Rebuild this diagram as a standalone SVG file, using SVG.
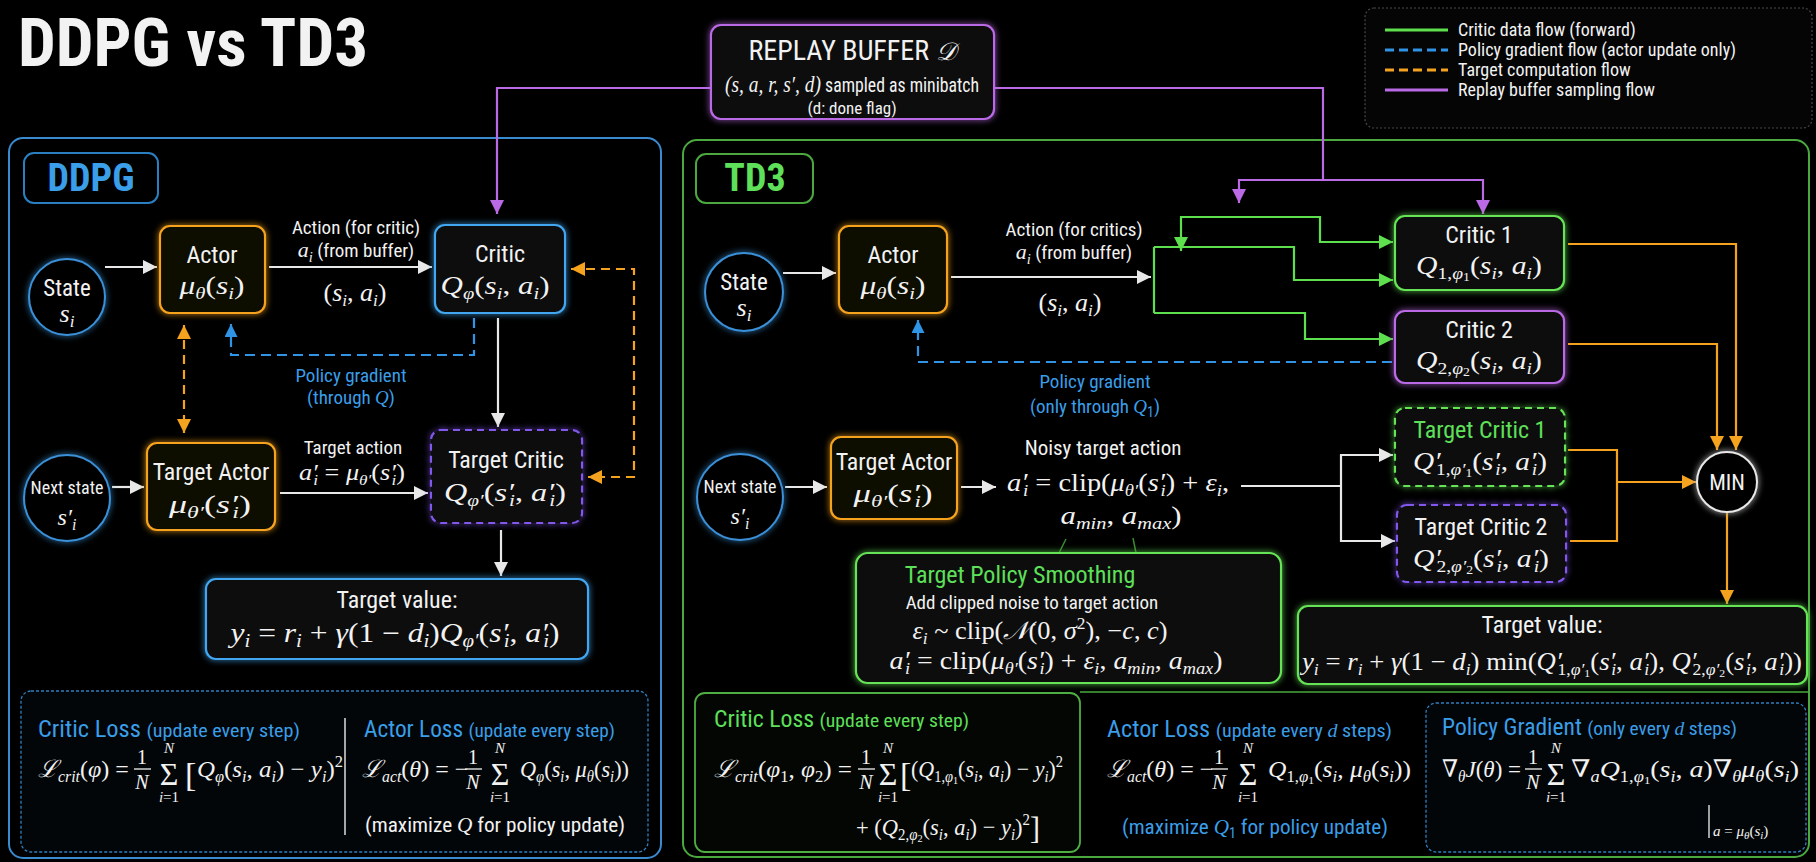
<svg xmlns="http://www.w3.org/2000/svg" width="1816" height="862" viewBox="0 0 1816 862">
<defs>
<style>
text{font-family:"Liberation Sans Narrow","Roboto Condensed",Roboto,"Liberation Sans",sans-serif;fill:#f2f2f2;}
.m{font-family:"Liberation Serif","DejaVu Serif",serif;font-style:italic;}
.r{font-style:normal;}
.sb{font-size:0.66em;}
.tb{fill:#3a9ee8;}
.tg{fill:#5ee05a;}
.box{fill:#070707;stroke-width:2.2;filter:url(#glow);}
.or{stroke:#f5a21e;fill:#0d0803;}
.bl{stroke:#43a6f0;}
.gr{stroke:#66e356;}
.pu{stroke:#bb6ae6;}
.vi{stroke:#8258ec;}
.dash{stroke-dasharray:7 5;}
.frame{fill:none;stroke-width:2;}
.c{fill:none;stroke-width:2.2;}
.cw{stroke:#e8e8e8;}
.co{stroke:#f5a21e;}
.cg{stroke:#5ee04e;}
.cp{stroke:#bb6ae6;}
.cb{stroke:#2f93e6;stroke-dasharray:10 6;}
.cod{stroke-dasharray:9 6;}
</style>
<filter id="glow" x="-20%" y="-20%" width="140%" height="140%">
<feGaussianBlur in="SourceGraphic" stdDeviation="3" result="b"/>
<feMerge><feMergeNode in="b"/><feMergeNode in="SourceGraphic"/></feMerge>
</filter>
<marker id="mw" viewBox="0 0 10 10" refX="10" refY="5" markerWidth="14" markerHeight="14" markerUnits="userSpaceOnUse" orient="auto-start-reverse"><path d="M0,0 L10,5 L0,10 z" fill="#e8e8e8"/></marker>
<marker id="mo" viewBox="0 0 10 10" refX="10" refY="5" markerWidth="14" markerHeight="14" markerUnits="userSpaceOnUse" orient="auto-start-reverse"><path d="M0,0 L10,5 L0,10 z" fill="#f5a21e"/></marker>
<marker id="mg" viewBox="0 0 10 10" refX="10" refY="5" markerWidth="14" markerHeight="14" markerUnits="userSpaceOnUse" orient="auto-start-reverse"><path d="M0,0 L10,5 L0,10 z" fill="#5ee04e"/></marker>
<marker id="mp" viewBox="0 0 10 10" refX="10" refY="5" markerWidth="14" markerHeight="14" markerUnits="userSpaceOnUse" orient="auto-start-reverse"><path d="M0,0 L10,5 L0,10 z" fill="#bb6ae6"/></marker>
<marker id="mb" viewBox="0 0 10 10" refX="10" refY="5" markerWidth="13" markerHeight="13" markerUnits="userSpaceOnUse" orient="auto-start-reverse"><path d="M0,0 L10,5 L0,10 z" fill="#2f93e6"/></marker>
</defs>

<rect width="1816" height="862" fill="#000"/>

<!-- title -->
<text x="18" y="66" font-size="66" font-weight="bold" textLength="350" lengthAdjust="spacingAndGlyphs">DDPG vs TD3</text>

<!-- legend -->
<g id="legend">
<rect x="1365" y="8" width="447" height="120" rx="9" fill="#050505" stroke="#4a4a4a" stroke-width="1.2" stroke-dasharray="2 2"/>
<line x1="1385" y1="30" x2="1448" y2="30" stroke="#5ee04e" stroke-width="3"/>
<line x1="1385" y1="50" x2="1448" y2="50" stroke="#2f93e6" stroke-width="3" stroke-dasharray="9 5"/>
<line x1="1385" y1="70" x2="1448" y2="70" stroke="#f5a21e" stroke-width="3" stroke-dasharray="9 5"/>
<line x1="1385" y1="90" x2="1448" y2="90" stroke="#bb6ae6" stroke-width="3"/>
<text x="1458" y="36" font-size="18">Critic data flow (forward)</text>
<text x="1458" y="56" font-size="18">Policy gradient flow (actor update only)</text>
<text x="1458" y="76" font-size="18">Target computation flow</text>
<text x="1458" y="96" font-size="18">Replay buffer sampling flow</text>
</g>

<!-- replay buffer -->
<g id="replay">
<rect class="box pu" x="711" y="25" width="283" height="94" rx="10"/>
<text x="852" y="60" font-size="28" text-anchor="middle">REPLAY BUFFER <tspan class="m" font-size="25">𝒟</tspan></text>
<text x="852" y="92" font-size="21" text-anchor="middle" textLength="254" lengthAdjust="spacingAndGlyphs"><tspan class="m" font-size="23">(s, a, r, s′, d)</tspan> sampled as minibatch</text>
<text x="852" y="114" font-size="17" text-anchor="middle">(d: done flag)</text>
</g>

<!-- section frames -->
<g id="ddpg-frame">
<rect class="frame" x="9" y="138" width="652" height="720" rx="14" stroke="#3a8ad0"/>
<rect x="24" y="153" width="134" height="50" rx="10" fill="none" stroke="#2b7fc0" stroke-width="2"/>
<text x="91" y="191" font-size="38" font-weight="bold" text-anchor="middle" class="tb">DDPG</text>
</g>
<g id="td3-frame">
<rect class="frame" x="683" y="140" width="1126" height="717" rx="14" stroke="#4aa83f"/>
<rect x="696" y="154" width="117" height="49" rx="10" fill="none" stroke="#4aa83f" stroke-width="2"/>
<text x="755" y="191" font-size="38" font-weight="bold" text-anchor="middle" class="tg">TD3</text>
</g>

<!-- connectors -->
<g id="connectors">
<!-- replay sampling -->
<path class="c cp" d="M711,88 H497 V214" marker-end="url(#mp)"/>
<path class="c cp" d="M994,88 H1323 V180"/>
<path class="c cp" d="M1239,203 V180 H1483 V214" marker-start="url(#mp)" marker-end="url(#mp)"/>
<!-- DDPG forward -->
<path class="c cw" d="M105,267 H157" marker-end="url(#mw)"/>
<path class="c cw" d="M269,267 H432" marker-end="url(#mw)"/>
<path class="c cw" d="M498,318 V427" marker-end="url(#mw)"/>
<path class="c cw" d="M112,487 H144" marker-end="url(#mw)"/>
<path class="c cw" d="M280,493 H428" marker-end="url(#mw)"/>
<path class="c cw" d="M501,530 V576" marker-end="url(#mw)"/>
<!-- DDPG gradient / target sync -->
<path class="c cb" d="M474,318 V355 H231 V324" marker-end="url(#mb)"/>
<path class="c co cod" d="M184,325 V433" marker-start="url(#mo)" marker-end="url(#mo)"/>
<path class="c co cod" d="M571,269 H634 V477 H588" marker-start="url(#mo)" marker-end="url(#mo)"/>
<!-- TD3 forward -->
<path class="c cw" d="M783,273 H836" marker-end="url(#mw)"/>
<path class="c cw" d="M951,277 H1151" marker-end="url(#mw)"/>
<path class="c cg" d="M1154,247 V313"/>
<path class="c cg" d="M1154,247 H1294 V280 H1393" marker-end="url(#mg)"/>
<path class="c cg" d="M1154,313 H1305 V339 H1393" marker-end="url(#mg)"/>
<path class="c cg" d="M1181,251 V217 H1320 V242 H1393" marker-start="url(#mg)" marker-end="url(#mg)"/>
<path class="c cb" d="M1392,362 H918 V320" marker-end="url(#mb)"/>
<path class="c cw" d="M785,487 H827" marker-end="url(#mw)"/>
<path class="c cw" d="M961,487 H996" marker-end="url(#mw)"/>
<path class="c cw" d="M1241,486 H1341"/>
<path class="c cw" d="M1393,455 H1341 V541 H1395" marker-start="url(#mw)" marker-end="url(#mw)"/>
<path d="M1059,553 L1066,539 M1136,553 L1133,538" fill="none" stroke="#3a8a30" stroke-width="1.5"/>
<!-- TD3 target min -->
<path class="c co" d="M1568,244 H1736 V450" marker-end="url(#mo)"/>
<path class="c co" d="M1568,344 H1717 V450" marker-end="url(#mo)"/>
<path class="c co" d="M1568,450 H1617 V541 H1570"/>
<path class="c co" d="M1617,482 H1696" marker-end="url(#mo)"/>
<path class="c co" d="M1727,512 V604" marker-end="url(#mo)"/>
</g>

<!-- DDPG nodes -->
<g id="ddpg-state">
<circle cx="67" cy="297" r="38" fill="#040404" stroke="#3a90d8" stroke-width="2" filter="url(#glow)"/>
<text x="67" y="296" font-size="23" text-anchor="middle">State</text>
<text class="m" x="67" y="322" font-size="26" text-anchor="middle">s<tspan class="sb" dy="5">i</tspan></text>
</g>
<g id="ddpg-actor">
<rect class="box or" x="160" y="226" width="105" height="87" rx="10"/>
<text x="212" y="263" font-size="24" text-anchor="middle">Actor</text>
<text class="m" x="212" y="294" font-size="26" text-anchor="middle" textLength="65" lengthAdjust="spacingAndGlyphs">μ<tspan class="sb" dy="5">θ</tspan><tspan class="r" dy="-5">(</tspan>s<tspan class="sb" dy="5">i</tspan><tspan class="r" dy="-5">)</tspan></text>
</g>
<g id="ddpg-critic">
<rect class="box bl" x="435" y="225" width="130" height="88" rx="10"/>
<text x="500" y="262" font-size="24" text-anchor="middle">Critic</text>
<text class="m" x="495" y="294" font-size="26" text-anchor="middle" textLength="109" lengthAdjust="spacingAndGlyphs">Q<tspan class="sb" dy="5">φ</tspan><tspan class="r" dy="-5">(</tspan>s<tspan class="sb" dy="5">i</tspan><tspan class="r" dy="-5">, </tspan>a<tspan class="sb" dy="5">i</tspan><tspan class="r" dy="-5">)</tspan></text>
</g>
<g id="ddpg-next-state">
<circle cx="67" cy="498" r="43" fill="#040404" stroke="#3a90d8" stroke-width="2" filter="url(#glow)"/>
<text x="67" y="494" font-size="18" text-anchor="middle">Next state</text>
<text class="m" x="67" y="525" font-size="24" text-anchor="middle">s′<tspan class="sb" dy="5">i</tspan></text>
</g>
<g id="ddpg-target-actor">
<rect class="box or" x="147" y="443" width="128" height="87" rx="10"/>
<text x="211" y="480" font-size="24" text-anchor="middle">Target Actor</text>
<text class="m" x="210" y="513" font-size="26" text-anchor="middle" textLength="82" lengthAdjust="spacingAndGlyphs">μ<tspan class="sb" dy="5">θ′</tspan><tspan class="r" dy="-5">(</tspan>s′<tspan class="sb" dx="-4" dy="5">i</tspan><tspan class="r" dy="-5">)</tspan></text>
</g>
<g id="ddpg-target-critic">
<rect class="box vi dash" x="431" y="430" width="151" height="93" rx="10"/>
<text x="506" y="468" font-size="24" text-anchor="middle">Target Critic</text>
<text class="m" x="505" y="501" font-size="26" text-anchor="middle" textLength="122" lengthAdjust="spacingAndGlyphs">Q<tspan class="sb" dy="5">φ′</tspan><tspan class="r" dy="-5">(</tspan>s′<tspan class="sb" dx="-4" dy="5">i</tspan><tspan class="r" dy="-5">, </tspan>a′<tspan class="sb" dx="-4" dy="5">i</tspan><tspan class="r" dy="-5">)</tspan></text>
</g>
<g id="ddpg-target-value">
<rect class="box bl" x="206" y="579" width="382" height="80" rx="10" stroke="#3a8ad0"/>
<text x="397" y="608" font-size="24" text-anchor="middle">Target value:</text>
<text class="m" x="395" y="642" font-size="27" text-anchor="middle" textLength="329" lengthAdjust="spacingAndGlyphs">y<tspan class="sb" dy="5">i</tspan><tspan class="r" dy="-5"> = </tspan>r<tspan class="sb" dy="5">i</tspan><tspan class="r" dy="-5"> + </tspan>γ<tspan class="r">(1 − </tspan>d<tspan class="sb" dy="5">i</tspan><tspan class="r" dy="-5">)</tspan>Q<tspan class="sb" dy="5">φ′</tspan><tspan class="r" dy="-5">(</tspan>s′<tspan class="sb" dx="-4" dy="5">i</tspan><tspan class="r" dy="-5">, </tspan>a′<tspan class="sb" dx="-4" dy="5">i</tspan><tspan class="r" dy="-5">)</tspan></text>
</g>
<g id="ddpg-edge-labels">
<text x="356" y="234" font-size="19" text-anchor="middle">Action (for critic)</text>
<text x="356" y="257" font-size="19" text-anchor="middle"><tspan class="m" font-size="22">a<tspan class="sb" dy="5">i</tspan></tspan><tspan dy="-5"> (from buffer)</tspan></text>
<text class="m" x="355" y="301" font-size="25" text-anchor="middle" textLength="63" lengthAdjust="spacingAndGlyphs"><tspan class="r">(</tspan>s<tspan class="sb" dy="5">i</tspan><tspan class="r" dy="-5">, </tspan>a<tspan class="sb" dy="5">i</tspan><tspan class="r" dy="-5">)</tspan></text>
<text x="351" y="382" font-size="19" text-anchor="middle" class="tb">Policy gradient</text>
<text x="351" y="404" font-size="19" text-anchor="middle" class="tb">(through <tspan class="m">Q</tspan>)</text>
<text x="353" y="454" font-size="19" text-anchor="middle">Target action</text>
<text class="m" x="352" y="480" font-size="23" text-anchor="middle" textLength="106" lengthAdjust="spacingAndGlyphs">a′<tspan class="sb" dx="-4" dy="5">i</tspan><tspan class="r" dy="-5"> = </tspan>μ<tspan class="sb" dy="5">θ′</tspan><tspan class="r" dy="-5">(</tspan>s′<tspan class="sb" dx="-4" dy="5">i</tspan><tspan class="r" dy="-5">)</tspan></text>
</g>
<g id="ddpg-losses">
<rect x="21" y="691" width="627" height="161" rx="10" fill="#030608" stroke="#2f7fbf" stroke-width="1.3" stroke-dasharray="3 2"/>
<text x="38" y="737" font-size="23" class="tb" textLength="262" lengthAdjust="spacingAndGlyphs">Critic Loss <tspan font-size="19">(update every step)</tspan></text>
<text class="m" x="38" y="777" font-size="24">ℒ<tspan class="sb" dy="5">crit</tspan><tspan class="r" dy="-5">(</tspan>φ<tspan class="r">) =</tspan></text>
<text class="m r" x="142" y="764" font-size="20" text-anchor="middle">1</text>
<line x1="134" y1="769" x2="151" y2="769" stroke="#f2f2f2" stroke-width="1.3"/>
<text class="m" x="142" y="789" font-size="20" text-anchor="middle">N</text>
<text class="m" x="169" y="753" font-size="15" text-anchor="middle">N</text>
<text class="m r" x="169" y="785" font-size="32" text-anchor="middle">Σ</text>
<text class="m" x="169" y="802" font-size="15" text-anchor="middle">i<tspan class="r">=1</tspan></text>
<text class="m r" x="185" y="786" font-size="34">[</text>
<text class="m" x="197" y="777" font-size="24" textLength="146" lengthAdjust="spacingAndGlyphs">Q<tspan class="sb" dy="5">φ</tspan><tspan class="r" dy="-5">(</tspan>s<tspan class="sb" dy="5">i</tspan><tspan class="r" dy="-5">, </tspan>a<tspan class="sb" dy="5">i</tspan><tspan class="r" dy="-5">) − </tspan>y<tspan class="sb" dy="5">i</tspan><tspan class="r" dy="-5">)</tspan><tspan class="sb r" dy="-10">2</tspan></text>
<line x1="345" y1="718" x2="345" y2="835" stroke="#dddddd" stroke-width="1.5"/>
<text x="364" y="737" font-size="23" class="tb" textLength="251" lengthAdjust="spacingAndGlyphs">Actor Loss <tspan font-size="19">(update every step)</tspan></text>
<text class="m" x="362" y="777" font-size="24">ℒ<tspan class="sb" dy="5">act</tspan><tspan class="r" dy="-5">(</tspan>θ<tspan class="r">) = −</tspan></text>
<text class="m r" x="473" y="764" font-size="20" text-anchor="middle">1</text>
<line x1="465" y1="769" x2="482" y2="769" stroke="#f2f2f2" stroke-width="1.3"/>
<text class="m" x="473" y="789" font-size="20" text-anchor="middle">N</text>
<text class="m" x="500" y="753" font-size="15" text-anchor="middle">N</text>
<text class="m r" x="500" y="785" font-size="32" text-anchor="middle">Σ</text>
<text class="m" x="500" y="802" font-size="15" text-anchor="middle">i<tspan class="r">=1</tspan></text>
<text class="m" x="520" y="777" font-size="24" textLength="109" lengthAdjust="spacingAndGlyphs">Q<tspan class="sb" dy="5">φ</tspan><tspan class="r" dy="-5">(</tspan>s<tspan class="sb" dy="5">i</tspan><tspan class="r" dy="-5">, </tspan>μ<tspan class="sb" dy="5">θ</tspan><tspan class="r" dy="-5">(</tspan>s<tspan class="sb" dy="5">i</tspan><tspan class="r" dy="-5">))</tspan></text>
<text x="495" y="832" font-size="21" text-anchor="middle" textLength="260" lengthAdjust="spacingAndGlyphs">(maximize <tspan class="m">Q</tspan> for policy update)</text>
</g>

<!-- TD3 nodes -->
<g id="td3-state">
<circle cx="744" cy="292" r="39" fill="#040404" stroke="#3a90d8" stroke-width="2" filter="url(#glow)"/>
<text x="744" y="290" font-size="23" text-anchor="middle">State</text>
<text class="m" x="744" y="316" font-size="26" text-anchor="middle">s<tspan class="sb" dy="5">i</tspan></text>
</g>
<g id="td3-actor">
<rect class="box or" x="839" y="226" width="108" height="87" rx="10"/>
<text x="893" y="263" font-size="24" text-anchor="middle">Actor</text>
<text class="m" x="893" y="294" font-size="26" text-anchor="middle" textLength="65" lengthAdjust="spacingAndGlyphs">μ<tspan class="sb" dy="5">θ</tspan><tspan class="r" dy="-5">(</tspan>s<tspan class="sb" dy="5">i</tspan><tspan class="r" dy="-5">)</tspan></text>
</g>
<g id="td3-critic1">
<rect class="box gr" x="1395" y="216" width="169" height="74" rx="10"/>
<text x="1479" y="243" font-size="24" text-anchor="middle">Critic 1</text>
<text class="m" x="1479" y="274" font-size="26" text-anchor="middle" textLength="126" lengthAdjust="spacingAndGlyphs">Q<tspan class="sb r" dy="5">1,</tspan><tspan class="sb" >φ</tspan><tspan class="r" font-size="12" dy="2">1</tspan><tspan class="r" dy="-7">(</tspan>s<tspan class="sb" dy="5">i</tspan><tspan class="r" dy="-5">, </tspan>a<tspan class="sb" dy="5">i</tspan><tspan class="r" dy="-5">)</tspan></text>
</g>
<g id="td3-critic2">
<rect class="box pu" x="1395" y="311" width="169" height="72" rx="10"/>
<text x="1479" y="338" font-size="24" text-anchor="middle">Critic 2</text>
<text class="m" x="1479" y="369" font-size="26" text-anchor="middle" textLength="126" lengthAdjust="spacingAndGlyphs">Q<tspan class="sb r" dy="5">2,</tspan><tspan class="sb">φ</tspan><tspan class="r" font-size="12" dy="2">2</tspan><tspan class="r" dy="-7">(</tspan>s<tspan class="sb" dy="5">i</tspan><tspan class="r" dy="-5">, </tspan>a<tspan class="sb" dy="5">i</tspan><tspan class="r" dy="-5">)</tspan></text>
</g>
<g id="td3-target-critic1">
<rect class="box gr dash" x="1395" y="408" width="170" height="78" rx="10"/>
<text x="1480" y="438" font-size="24" text-anchor="middle" class="tg">Target Critic 1</text>
<text class="m" x="1480" y="470" font-size="26" text-anchor="middle" textLength="134" lengthAdjust="spacingAndGlyphs">Q′<tspan class="sb r" dx="-4" dy="5">1,</tspan><tspan class="sb">φ′</tspan><tspan class="r" font-size="12" dy="2">1</tspan><tspan class="r" dy="-7">(</tspan>s′<tspan class="sb" dx="-4" dy="5">i</tspan><tspan class="r" dy="-5">, </tspan>a′<tspan class="sb" dx="-4" dy="5">i</tspan><tspan class="r" dy="-5">)</tspan></text>
</g>
<g id="td3-target-critic2">
<rect class="box vi dash" x="1397" y="505" width="169" height="77" rx="10"/>
<text x="1481" y="535" font-size="24" text-anchor="middle">Target Critic 2</text>
<text class="m" x="1481" y="567" font-size="26" text-anchor="middle" textLength="136" lengthAdjust="spacingAndGlyphs">Q′<tspan class="sb r" dx="-4" dy="5">2,</tspan><tspan class="sb">φ′</tspan><tspan class="r" font-size="12" dy="2">2</tspan><tspan class="r" dy="-7">(</tspan>s′<tspan class="sb" dx="-4" dy="5">i</tspan><tspan class="r" dy="-5">, </tspan>a′<tspan class="sb" dx="-4" dy="5">i</tspan><tspan class="r" dy="-5">)</tspan></text>
</g>
<g id="td3-min">
<circle cx="1727" cy="482" r="30" fill="#050505" stroke="#e8e8e8" stroke-width="2" filter="url(#glow)"/>
<text x="1727" y="490" font-size="22" text-anchor="middle">MIN</text>
</g>
<g id="td3-next-state">
<circle cx="740" cy="497" r="43" fill="#040404" stroke="#3a90d8" stroke-width="2" filter="url(#glow)"/>
<text x="740" y="493" font-size="18" text-anchor="middle">Next state</text>
<text class="m" x="740" y="524" font-size="24" text-anchor="middle">s′<tspan class="sb" dy="5">i</tspan></text>
</g>
<g id="td3-target-actor">
<rect class="box or" x="831" y="437" width="126" height="82" rx="10"/>
<text x="894" y="470" font-size="24" text-anchor="middle">Target Actor</text>
<text class="m" x="893" y="502" font-size="26" text-anchor="middle" textLength="79" lengthAdjust="spacingAndGlyphs">μ<tspan class="sb" dy="5">θ′</tspan><tspan class="r" dy="-5">(</tspan>s′<tspan class="sb" dx="-4" dy="5">i</tspan><tspan class="r" dy="-5">)</tspan></text>
</g>
<g id="td3-noisy-action">
<text x="1103" y="455" font-size="21" text-anchor="middle">Noisy target action</text>
<text class="m" x="1007" y="491" font-size="26" textLength="222" lengthAdjust="spacingAndGlyphs">a′<tspan class="sb" dx="-4" dy="5">i</tspan><tspan class="r" dy="-5"> = clip(</tspan>μ<tspan class="sb" dy="5">θ′</tspan><tspan class="r" dy="-5">(</tspan>s′<tspan class="sb" dx="-4" dy="5">i</tspan><tspan class="r" dy="-5">) + </tspan>ε<tspan class="sb" dy="5">i</tspan><tspan class="r" dy="-5">,</tspan></text>
<text class="m" x="1121" y="524" font-size="26" text-anchor="middle" textLength="121" lengthAdjust="spacingAndGlyphs">a<tspan class="sb" dy="5">min</tspan><tspan class="r" dy="-5">, </tspan>a<tspan class="sb" dy="5">max</tspan><tspan class="r" dy="-5">)</tspan></text>
</g>
<g id="td3-smoothing">
<rect class="box gr" x="856" y="553" width="425" height="130" rx="12" stroke="#4fae42"/>
<text x="1020" y="583" font-size="24" text-anchor="middle" class="tg">Target Policy Smoothing</text>
<text x="1032" y="609" font-size="19" text-anchor="middle">Add clipped noise to target action</text>
<text class="m" x="1040" y="639" font-size="25" text-anchor="middle" textLength="255" lengthAdjust="spacingAndGlyphs">ε<tspan class="sb" dy="5">i</tspan><tspan class="r" dy="-5"> ~ clip(</tspan>𝒩<tspan class="r">(0, </tspan>σ<tspan class="sb r" dy="-10">2</tspan><tspan class="r" dy="10">), −</tspan>c<tspan class="r">, </tspan>c<tspan class="r">)</tspan></text>
<text class="m" x="1056" y="669" font-size="25" text-anchor="middle" textLength="333" lengthAdjust="spacingAndGlyphs">a′<tspan class="sb" dx="-4" dy="5">i</tspan><tspan class="r" dy="-5"> = clip(</tspan>μ<tspan class="sb" dy="5">θ′</tspan><tspan class="r" dy="-5">(</tspan>s′<tspan class="sb" dx="-4" dy="5">i</tspan><tspan class="r" dy="-5">) + </tspan>ε<tspan class="sb" dy="5">i</tspan><tspan class="r" dy="-5">, </tspan>a<tspan class="sb" dy="5">min</tspan><tspan class="r" dy="-5">, </tspan>a<tspan class="sb" dy="5">max</tspan><tspan class="r" dy="-5">)</tspan></text>
</g>
<g id="td3-target-value">
<rect class="box gr" x="1298" y="606" width="509" height="78" rx="10" stroke="#4fae42"/>
<text x="1542" y="633" font-size="24" text-anchor="middle">Target value:</text>
<text class="m" x="1552" y="670" font-size="25" text-anchor="middle" textLength="500" lengthAdjust="spacingAndGlyphs">y<tspan class="sb" dy="5">i</tspan><tspan class="r" dy="-5"> = </tspan>r<tspan class="sb" dy="5">i</tspan><tspan class="r" dy="-5"> + </tspan>γ<tspan class="r">(1 − </tspan>d<tspan class="sb" dy="5">i</tspan><tspan class="r" dy="-5">) min(</tspan>Q′<tspan class="sb r" dx="-4" dy="5">1,</tspan><tspan class="sb">φ′</tspan><tspan class="r" font-size="11" dy="2">1</tspan><tspan class="r" dy="-7">(</tspan>s′<tspan class="sb" dx="-4" dy="5">i</tspan><tspan class="r" dy="-5">, </tspan>a′<tspan class="sb" dx="-4" dy="5">i</tspan><tspan class="r" dy="-5">), </tspan>Q′<tspan class="sb r" dx="-4" dy="5">2,</tspan><tspan class="sb">φ′</tspan><tspan class="r" font-size="11" dy="2">2</tspan><tspan class="r" dy="-7">(</tspan>s′<tspan class="sb" dx="-4" dy="5">i</tspan><tspan class="r" dy="-5">, </tspan>a′<tspan class="sb" dx="-4" dy="5">i</tspan><tspan class="r" dy="-5">))</tspan></text>
</g>
<g id="td3-edge-labels">
<text x="1074" y="236" font-size="19" text-anchor="middle">Action (for critics)</text>
<text x="1074" y="259" font-size="19" text-anchor="middle"><tspan class="m" font-size="22">a<tspan class="sb" dy="5">i</tspan></tspan><tspan dy="-5"> (from buffer)</tspan></text>
<text class="m" x="1070" y="311" font-size="25" text-anchor="middle" textLength="63" lengthAdjust="spacingAndGlyphs"><tspan class="r">(</tspan>s<tspan class="sb" dy="5">i</tspan><tspan class="r" dy="-5">, </tspan>a<tspan class="sb" dy="5">i</tspan><tspan class="r" dy="-5">)</tspan></text>
<text x="1095" y="388" font-size="19" text-anchor="middle" class="tb">Policy gradient</text>
<text x="1095" y="413" font-size="19" text-anchor="middle" class="tb">(only through <tspan class="m">Q</tspan><tspan font-size="14" dy="4">1</tspan><tspan dy="-4">)</tspan></text>
</g>
<g id="td3-losses">
<line x1="1080" y1="692" x2="1809" y2="692" stroke="#4aa83f" stroke-width="1.5"/>
<rect x="695" y="693" width="385" height="159" rx="10" fill="#030603" stroke="#4fae42" stroke-width="1.8"/>
<text x="714" y="727" font-size="23" class="tg" textLength="255" lengthAdjust="spacingAndGlyphs">Critic Loss <tspan font-size="19">(update every step)</tspan></text>
<text class="m" x="714" y="777" font-size="24" textLength="138" lengthAdjust="spacingAndGlyphs">ℒ<tspan class="sb" dy="5">crit</tspan><tspan class="r" dy="-5">(</tspan>φ<tspan class="sb r" dy="5">1</tspan><tspan class="r" dy="-5">, </tspan>φ<tspan class="sb r" dy="5">2</tspan><tspan class="r" dy="-5">) =</tspan></text>
<text class="m r" x="866" y="764" font-size="20" text-anchor="middle">1</text>
<line x1="858" y1="769" x2="875" y2="769" stroke="#f2f2f2" stroke-width="1.3"/>
<text class="m" x="866" y="789" font-size="20" text-anchor="middle">N</text>
<text class="m" x="888" y="753" font-size="15" text-anchor="middle">N</text>
<text class="m r" x="888" y="785" font-size="32" text-anchor="middle">Σ</text>
<text class="m" x="888" y="802" font-size="15" text-anchor="middle">i<tspan class="r">=1</tspan></text>
<text class="m r" x="900" y="786" font-size="34">[</text>
<text class="m" x="911" y="777" font-size="24" textLength="152" lengthAdjust="spacingAndGlyphs"><tspan class="r">(</tspan>Q<tspan class="sb r" dy="5">1,</tspan><tspan class="sb">φ</tspan><tspan class="r" font-size="11" dy="2">1</tspan><tspan class="r" dy="-7">(</tspan>s<tspan class="sb" dy="5">i</tspan><tspan class="r" dy="-5">, </tspan>a<tspan class="sb" dy="5">i</tspan><tspan class="r" dy="-5">) − </tspan>y<tspan class="sb" dy="5">i</tspan><tspan class="r" dy="-5">)</tspan><tspan class="sb r" dy="-10">2</tspan></text>
<text class="m" x="856" y="835" font-size="24" textLength="184" lengthAdjust="spacingAndGlyphs"><tspan class="r">+ (</tspan>Q<tspan class="sb r" dy="5">2,</tspan><tspan class="sb">φ</tspan><tspan class="r" font-size="11" dy="2">2</tspan><tspan class="r" dy="-7">(</tspan>s<tspan class="sb" dy="5">i</tspan><tspan class="r" dy="-5">, </tspan>a<tspan class="sb" dy="5">i</tspan><tspan class="r" dy="-5">) − </tspan>y<tspan class="sb" dy="5">i</tspan><tspan class="r" dy="-5">)</tspan><tspan class="sb r" dy="-10">2</tspan><tspan class="r" font-size="32" dy="14">]</tspan></text>

<text x="1107" y="737" font-size="23" class="tb" textLength="285" lengthAdjust="spacingAndGlyphs">Actor Loss <tspan font-size="19">(update every <tspan class="m">d</tspan> steps)</tspan></text>
<text class="m" x="1107" y="777" font-size="24">ℒ<tspan class="sb" dy="5">act</tspan><tspan class="r" dy="-5">(</tspan>θ<tspan class="r">) = −</tspan></text>
<text class="m r" x="1219" y="764" font-size="20" text-anchor="middle">1</text>
<line x1="1211" y1="769" x2="1228" y2="769" stroke="#f2f2f2" stroke-width="1.3"/>
<text class="m" x="1219" y="789" font-size="20" text-anchor="middle">N</text>
<text class="m" x="1248" y="753" font-size="15" text-anchor="middle">N</text>
<text class="m r" x="1248" y="785" font-size="32" text-anchor="middle">Σ</text>
<text class="m" x="1248" y="802" font-size="15" text-anchor="middle">i<tspan class="r">=1</tspan></text>
<text class="m" x="1268" y="777" font-size="24" textLength="143" lengthAdjust="spacingAndGlyphs">Q<tspan class="sb r" dy="5">1,</tspan><tspan class="sb">φ</tspan><tspan class="r" font-size="11" dy="2">1</tspan><tspan class="r" dy="-7">(</tspan>s<tspan class="sb" dy="5">i</tspan><tspan class="r" dy="-5">, </tspan>μ<tspan class="sb" dy="5">θ</tspan><tspan class="r" dy="-5">(</tspan>s<tspan class="sb" dy="5">i</tspan><tspan class="r" dy="-5">))</tspan></text>
<text x="1255" y="834" font-size="21" text-anchor="middle" class="tb" textLength="266" lengthAdjust="spacingAndGlyphs">(maximize <tspan class="m">Q</tspan><tspan font-size="14" dy="4">1</tspan><tspan dy="-4"> for policy update)</tspan></text>

<rect x="1426" y="703" width="380" height="149" rx="10" fill="#030608" stroke="#2f7fbf" stroke-width="1.3" stroke-dasharray="3 2"/>
<text x="1442" y="735" font-size="23" class="tb" textLength="295" lengthAdjust="spacingAndGlyphs">Policy Gradient <tspan font-size="19">(only every <tspan class="m">d</tspan> steps)</tspan></text>
<text class="m" x="1442" y="777" font-size="24" textLength="79" lengthAdjust="spacingAndGlyphs"><tspan class="r">∇</tspan><tspan class="sb" dy="5">θ</tspan><tspan dy="-5">J</tspan><tspan class="r">(</tspan>θ<tspan class="r">) =</tspan></text>
<text class="m r" x="1533" y="764" font-size="20" text-anchor="middle">1</text>
<line x1="1525" y1="769" x2="1542" y2="769" stroke="#f2f2f2" stroke-width="1.3"/>
<text class="m" x="1533" y="789" font-size="20" text-anchor="middle">N</text>
<text class="m" x="1556" y="753" font-size="15" text-anchor="middle">N</text>
<text class="m r" x="1556" y="785" font-size="32" text-anchor="middle">Σ</text>
<text class="m" x="1556" y="802" font-size="15" text-anchor="middle">i<tspan class="r">=1</tspan></text>
<text class="m" x="1571" y="777" font-size="24" textLength="228" lengthAdjust="spacingAndGlyphs"><tspan class="r">∇</tspan><tspan class="sb" dy="5">a</tspan><tspan dy="-5">Q</tspan><tspan class="sb r" dy="5">1,</tspan><tspan class="sb">φ</tspan><tspan class="r" font-size="11" dy="2">1</tspan><tspan class="r" dy="-7">(</tspan>s<tspan class="sb" dy="5">i</tspan><tspan class="r" dy="-5">, </tspan>a<tspan class="r">)∇</tspan><tspan class="sb" dy="5">θ</tspan><tspan dy="-5">μ</tspan><tspan class="sb" dy="5">θ</tspan><tspan class="r" dy="-5">(</tspan>s<tspan class="sb" dy="5">i</tspan><tspan class="r" dy="-5">)</tspan></text>
<line x1="1709" y1="805" x2="1709" y2="838" stroke="#f2f2f2" stroke-width="1.3"/>
<text class="m" x="1713" y="836" font-size="15">a<tspan class="r"> = </tspan>μ<tspan font-size="11" dy="3">θ</tspan><tspan class="r" dy="-3">(</tspan>s<tspan font-size="11" dy="3">i</tspan><tspan class="r" dy="-3">)</tspan></text>
</g>
</svg>
